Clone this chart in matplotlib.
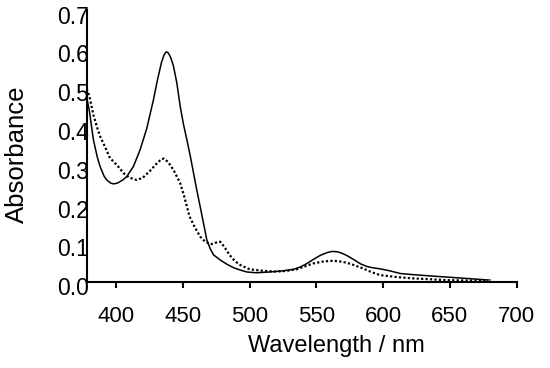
import matplotlib
matplotlib.use("Agg")
import matplotlib.pyplot as plt
from matplotlib.transforms import ScaledTranslation

plt.rcParams['font.family'] = ['Liberation Sans', 'DejaVu Sans']

# Solid spectrum
wl_solid = [378, 380, 383, 386, 388, 391, 393, 396, 398, 401, 405, 408, 413, 418, 423, 428,
            431, 434, 436, 437.5, 439, 441, 443, 445.5, 448, 450.5, 453, 455.5, 458, 460.5,
            463, 465.5, 468, 470.5, 473, 478, 483, 488, 493, 498, 505, 515, 525, 533, 538,
            543, 548, 553, 558, 562, 566, 570, 573, 578, 583, 588, 592, 598, 605, 613, 623,
            643, 660, 680]
abs_solid = [0.475, 0.44, 0.366, 0.320, 0.297, 0.272, 0.262, 0.254, 0.252, 0.254, 0.262, 0.271,
             0.297, 0.340, 0.395, 0.469, 0.52, 0.565, 0.585, 0.592, 0.590, 0.577, 0.555, 0.512,
             0.452, 0.405, 0.366, 0.325, 0.280, 0.235, 0.193, 0.150, 0.107, 0.085, 0.069, 0.056,
             0.045, 0.036, 0.030, 0.025, 0.023, 0.025, 0.028, 0.032, 0.038, 0.047, 0.058, 0.068,
             0.075, 0.078, 0.077, 0.072, 0.067, 0.057, 0.046, 0.039, 0.036, 0.033, 0.028, 0.021,
             0.018, 0.013, 0.009, 0.004]

# Dotted spectrum
wl_dot = [378, 380, 383, 386, 388, 392, 395.5, 398, 402, 405.5, 410, 415.5, 420, 425, 430, 434,
          436, 439, 443, 448, 451, 455, 459, 463, 467, 471.5, 475, 478, 481, 485, 489, 493, 500,
          510, 520, 528, 535, 541, 547.6, 555, 562.6, 568, 572.6, 578, 585, 591, 597.6, 610,
          622.6, 647.5, 680]
abs_dot = [0.497, 0.478, 0.43, 0.395, 0.375, 0.345, 0.318, 0.310, 0.295, 0.280, 0.268, 0.262,
           0.268, 0.284, 0.303, 0.316, 0.317, 0.308, 0.288, 0.254, 0.22, 0.168, 0.14, 0.116,
           0.102, 0.097, 0.101, 0.103, 0.090, 0.069, 0.053, 0.043, 0.032, 0.028, 0.026, 0.028,
           0.032, 0.039, 0.047, 0.052, 0.054, 0.052, 0.049, 0.043, 0.034, 0.025, 0.017, 0.012,
           0.0085, 0.004, 0.002]

x_ticks = [400, 450, 500, 550, 600, 650, 700]
y_ticks = [0.0, 0.1, 0.2, 0.3, 0.4, 0.5, 0.6, 0.7]
y_ticklabels = ["0.0", "0.1", "0.2", "0.3", "0.4", "0.5", "0.6", "0.7"]

fig = plt.figure(figsize=(5.5, 3.68), dpi=100)
ax = fig.add_axes([86.7 / 550, 1 - 281.7 / 368, 430 / 550, 271.7 / 368])

ax.plot(wl_solid, abs_solid, color='black', lw=1.1, solid_joinstyle='round')
ax.plot(wl_dot, abs_dot, color='black', lw=1.6, linestyle=(0, (1, 1.0)), dash_capstyle='butt')
ax.plot([679], [0.005], 'o', color='#2a9d2a', ms=2, mec='none')

ax.set_xlim(378, 700)
ax.set_ylim(0, 0.7)
for s in ['top', 'right']:
    ax.spines[s].set_visible(False)
for s in ['left', 'bottom']:
    ax.spines[s].set_linewidth(1.5)
    ax.spines[s].set_zorder(5)

ax.set_xticks(x_ticks)
ax.set_yticks(y_ticks)
ax.set_yticklabels(y_ticklabels)
ax.tick_params(axis='x', direction='out', length=4.2, width=1.5, pad=13, labelsize=16)
ax.tick_params(axis='y', length=0, pad=-1.5, labelsize=16.5)
for lab in ax.get_yticklabels():
    lab.set_transform(lab.get_transform() + ScaledTranslation(0, -4.5 / 100, fig.dpi_scale_trans))

ax.set_xlabel("Wavelength / nm", fontsize=17)
ax.xaxis.set_label_coords(0.58, -0.195)
ax.set_ylabel("Absorbance", fontsize=18.5)
ax.yaxis.set_label_coords(-0.134, 0.47)

fig.savefig("out.png", dpi=100)
